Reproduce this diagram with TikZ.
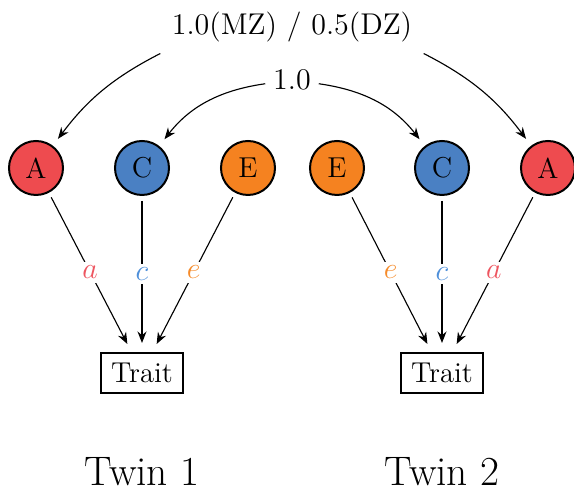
\documentclass[tikz,border=0pt]{standalone}
\usetikzlibrary{arrows.meta}
\definecolor{addred}{HTML}{EE4B4F}
\definecolor{sharedblue}{HTML}{4A80C3}
\definecolor{uniqorange}{HTML}{F58220}
\definecolor{addredtxt}{HTML}{EE5560}
\definecolor{sharedbluetxt}{HTML}{4F90DA}
\definecolor{uniqorangetxt}{HTML}{F68B2A}
\tikzset{
  latent/.style={circle, draw=black, line width=0.8pt, minimum size=21.6pt, inner sep=0pt, font=\fontsize{11.5}{13}\selectfont},
  traitbox/.style={rectangle, draw=black, line width=0.8pt, minimum width=32.8pt, minimum height=16pt, inner sep=0pt, font=\fontsize{11.5}{13}\selectfont},
  path/.style={-{Stealth[length=4.6pt,width=3.6pt]}, line width=0.45pt, shorten <=2pt, shorten >=3.6pt},
  corr/.style={-{Stealth[length=4.6pt,width=3.6pt]}, line width=0.45pt, shorten >=3.4pt},
  coef/.style={midway, fill=white, inner sep=1.5pt, font=\fontsize{12}{14}\selectfont},
  twinlabel/.style={font=\fontsize{16.5}{19}\selectfont},
}
\begin{document}
\begin{tikzpicture}[x=0.4pt,y=0.4pt]
  \useasboundingbox (0,0) rectangle (574,491);

  % latent factors
  \node[latent, fill=addred]     (A1) at (36,323)  {A};
  \node[latent, fill=sharedblue] (C1) at (142,323) {C};
  \node[latent, fill=uniqorange] (E1) at (248,323) {E};
  \node[latent, fill=uniqorange] (E2) at (337,323) {E};
  \node[latent, fill=sharedblue] (C2) at (442,323) {C};
  \node[latent, fill=addred]     (A2) at (548,323) {A};

  % observed traits
  \node[traitbox] (T1) at (142,118) {Trait};
  \node[traitbox] (T2) at (442,118) {Trait};

  % entry points on the trait boxes
  \coordinate (T1a) at ([xshift=-4.2pt]T1.north);
  \coordinate (T1c) at (T1.north);
  \coordinate (T1e) at ([xshift=4.2pt]T1.north);
  \coordinate (T2e) at ([xshift=-4.2pt]T2.north);
  \coordinate (T2c) at (T2.north);
  \coordinate (T2a) at ([xshift=4.2pt]T2.north);

  % twin labels
  \node[twinlabel] (L1) at (142,19) {Twin 1};
  \node[twinlabel] (L2) at (442,19) {Twin 2};

  % correlation labels
  \node[inner sep=4.4pt, font=\fontsize{12}{14}\selectfont] (rA) at (292,464) {1.0(MZ) / 0.5(DZ)};
  \node[inner sep=3pt, font=\fontsize{12}{14}\selectfont] (rC) at (292,411) {1.0};

  % path coefficients
  \draw[path] (A1) -- (T1a) node[coef] {$\color{addredtxt}a$};
  \draw[path] (C1) -- (T1c) node[coef] {$\color{sharedbluetxt}c$};
  \draw[path] (E1) -- (T1e) node[coef] {$\color{uniqorangetxt}e$};
  \draw[path] (E2) -- (T2e) node[coef] {$\color{uniqorangetxt}e$};
  \draw[path] (C2) -- (T2c) node[coef] {$\color{sharedbluetxt}c$};
  \draw[path] (A2) -- (T2a) node[coef] {$\color{addredtxt}a$};

  % twin correlations
  \draw[corr] (rA.south west) to[out=207, in=53] (A1);
  \draw[corr] (rA.south east) to[out=-27, in=127] (A2);
  \draw[corr] (rC) to[out=188, in=52] (C1);
  \draw[corr] (rC) to[out=-8, in=128] (C2);
\end{tikzpicture}
\end{document}
